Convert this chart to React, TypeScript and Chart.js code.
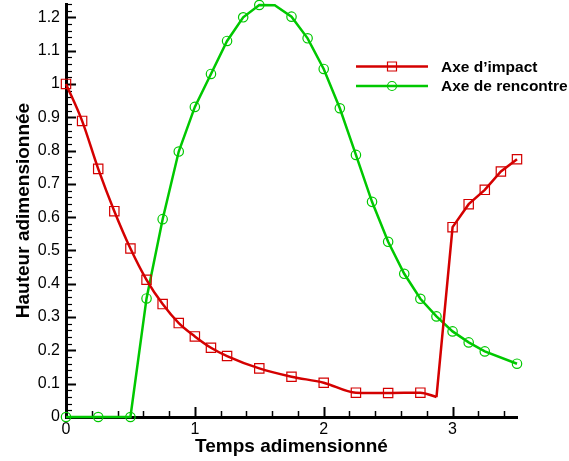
import React, { useEffect, useRef } from "react";
import { Chart, registerables } from "chart.js";

Chart.register(...registerables);

// ---- data ----
const seriesNames = ["Axe d\u2019impact", "Axe de rencontre"];

const impactX = [0, 0.125, 0.25, 0.375, 0.5, 0.625, 0.75, 0.875, 1.0, 1.125, 1.25, 1.5, 1.75, 2.0, 2.25, 2.5, 2.75, 2.875, 3.0, 3.125, 3.25, 3.375, 3.5];
const impactY = [1.0, 0.889, 0.745, 0.618, 0.506, 0.412, 0.339, 0.282, 0.242, 0.208, 0.183, 0.146, 0.121, 0.103, 0.073, 0.072, 0.073, 0.06, 0.57, 0.639, 0.682, 0.737, 0.774];
const impactMarked = [1, 1, 1, 1, 1, 1, 1, 1, 1, 1, 1, 1, 1, 1, 1, 1, 1, 0, 1, 1, 1, 1, 1];
const impactBreakIndex = 17; // smooth part ends, straight part starts

const rencontreX = [0, 0.25, 0.5, 0.625, 0.75, 0.875, 1.0, 1.125, 1.25, 1.375, 1.5, 1.62, 1.75, 1.875, 2.0, 2.125, 2.25, 2.375, 2.5, 2.625, 2.75, 2.875, 3.0, 3.125, 3.25, 3.5];
const rencontreY = [0, 0, 0, 0.356, 0.594, 0.797, 0.931, 1.03, 1.129, 1.2, 1.237, 1.236, 1.202, 1.137, 1.045, 0.927, 0.787, 0.646, 0.526, 0.43, 0.355, 0.302, 0.257, 0.224, 0.197, 0.16];
const rencontreMarked = [1, 1, 1, 1, 1, 1, 1, 1, 1, 1, 1, 0, 1, 1, 1, 1, 1, 1, 1, 1, 1, 1, 1, 1, 1, 1];

const xMin = 0, xMax = 3.5, xMajor = 1, xMinor = 0.2;
const yMin = 0, yMax = 1.24, yMajor = 0.1, yMinor = 0.02;
const xTitle = "Temps adimensionné";
const yTitle = "Hauteur adimensionnée";

const RED = "#d40000";
const GREEN = "#00c800";
const FONT = "'Liberation Sans', Arial, sans-serif";
const PLOT_TOP = 4;

const pts = (xs: number[], ys: number[]) => xs.map((x, i) => ({ x, y: ys[i] }));

const fixTopPlugin = {
  id: "fixTop",
  afterLayout(chart: any) {
    const ys = chart.scales.y;
    const ca = chart.chartArea;
    ca.top = PLOT_TOP;
    ca.height = ca.bottom - PLOT_TOP;
    ys.top = PLOT_TOP;
    ys.height = ys.bottom - PLOT_TOP;
    ys.configure();
  },
};

const axisTicksPlugin = {
  id: "axisTicks",
  beforeDatasetsDraw(chart: any) {
    const { ctx, chartArea } = chart;
    const xs = chart.scales.x;
    const ys = chart.scales.y;
    ctx.save();
    ctx.strokeStyle = "#000";
    const nx = Math.floor((xMax - xMin) / xMinor + 1e-6);
    for (let i = 0; i <= nx; i++) {
      const v = xMin + i * xMinor;
      const major = Math.abs(v / xMajor - Math.round(v / xMajor)) < 1e-6;
      const px = Math.round(xs.getPixelForValue(v)) + 0.5;
      ctx.lineWidth = major ? 2 : 1.5;
      ctx.beginPath();
      ctx.moveTo(px, chartArea.bottom);
      ctx.lineTo(px, chartArea.bottom - (major ? 10 : 6));
      ctx.stroke();
    }
    const ny = Math.floor((yMax - yMin) / yMinor + 1e-6);
    for (let i = 0; i <= ny; i++) {
      const v = yMin + i * yMinor;
      const major = Math.abs(v / yMajor - Math.round(v / yMajor)) < 1e-6;
      const py = Math.round(ys.getPixelForValue(v)) + 0.5;
      ctx.lineWidth = major ? 2 : 1.2;
      ctx.beginPath();
      ctx.moveTo(chartArea.left, py);
      ctx.lineTo(chartArea.left + (major ? 10 : 6), py);
      ctx.stroke();
    }
    ctx.restore();
  },
};

const legendPlugin = {
  id: "customLegend",
  afterDraw(chart: any) {
    const { ctx } = chart;
    const items = [
      { name: seriesNames[0], color: RED, style: "rect" },
      { name: seriesNames[1], color: GREEN, style: "circle" },
    ];
    ctx.save();
    items.forEach((it, i) => {
      const y = 66.5 + i * 19.5;
      ctx.strokeStyle = it.color;
      ctx.lineWidth = 2.5;
      ctx.beginPath();
      ctx.moveTo(356, y);
      ctx.lineTo(428, y);
      ctx.stroke();
      ctx.lineWidth = 1.2;
      ctx.beginPath();
      if (it.style === "rect") {
        ctx.rect(387.5, y - 4.5, 9, 9);
      } else {
        ctx.arc(392, y, 4.5, 0, Math.PI * 2);
      }
      ctx.stroke();
      ctx.fillStyle = "#000";
      ctx.font = `bold 15.5px ${FONT}`;
      ctx.textAlign = "left";
      ctx.textBaseline = "alphabetic";
      ctx.fillText(it.name, 441, y + 5.2);
    });
    ctx.restore();
  },
};

const zeroPad = (s: any) => {
  s.paddingTop = 0;
  s.paddingBottom = 0;
  s.paddingLeft = 0;
  s.paddingRight = 0;
};

export default function App() {
  const canvasRef = useRef<HTMLCanvasElement | null>(null);

  useEffect(() => {
    const canvas = canvasRef.current;
    if (!canvas) return;
    const smooth = pts(impactX.slice(0, impactBreakIndex + 1), impactY.slice(0, impactBreakIndex + 1));
    const straight = pts(impactX.slice(impactBreakIndex), impactY.slice(impactBreakIndex));
    const smoothR = impactMarked.slice(0, impactBreakIndex + 1).map((m) => (m ? 6.6 : 0));
    const straightR = impactMarked.slice(impactBreakIndex).map((m) => (m ? 6.6 : 0));
    const chart = new Chart(canvas, {
      type: "line",
      data: {
        datasets: [
          {
            label: seriesNames[0],
            data: smooth,
            borderColor: RED,
            borderWidth: 2.5,
            cubicInterpolationMode: "monotone",
            pointStyle: "rect",
            pointRadius: smoothR,
            pointBorderColor: RED,
            pointBorderWidth: 1.2,
            pointBackgroundColor: "rgba(0,0,0,0)",
            clip: false,
          } as any,
          {
            label: seriesNames[0],
            data: straight,
            borderColor: RED,
            borderWidth: 2.5,
            tension: 0,
            pointStyle: "rect",
            pointRadius: straightR,
            pointBorderColor: RED,
            pointBorderWidth: 1.2,
            pointBackgroundColor: "rgba(0,0,0,0)",
            clip: false,
          } as any,
          {
            label: seriesNames[1],
            data: pts(rencontreX, rencontreY),
            borderColor: GREEN,
            borderWidth: 2.5,
            tension: 0,
            pointStyle: "circle",
            pointRadius: rencontreMarked.map((m) => (m ? 4.7 : 0)),
            pointBorderColor: GREEN,
            pointBorderWidth: 1.2,
            pointBackgroundColor: "rgba(0,0,0,0)",
            clip: false,
          } as any,
        ],
      },
      options: {
        responsive: false,
        animation: false,
        events: [],
        layout: { padding: { left: 0, top: 4, right: 52, bottom: 0 } },
        plugins: { legend: { display: false }, tooltip: { enabled: false }, title: { display: false } },
        scales: {
          x: {
            type: "linear",
            min: xMin,
            max: xMax,
            grid: { display: false, drawTicks: false },
            border: { display: true, color: "#000", width: 3 },
            ticks: {
              stepSize: xMajor,
              includeBounds: false,
              color: "#000",
              padding: 3,
              font: { family: FONT, size: 16 },
              callback: (v: any) => String(Math.round(Number(v) * 10) / 10),
            },
            title: {
              display: true,
              text: xTitle,
              color: "#000",
              font: { family: FONT, size: 19, weight: "bold" },
              padding: { top: 0, bottom: 3 },
            },
            afterFit: (s: any) => {
              s.height = 44;
              zeroPad(s);
            },
          } as any,
          y: {
            type: "linear",
            min: yMin,
            max: yMax,
            grid: { display: false, drawTicks: false },
            border: { display: true, color: "#000", width: 3 },
            ticks: {
              stepSize: yMajor,
              includeBounds: false,
              color: "#000",
              padding: 6,
              font: { family: FONT, size: 16 },
              callback: (v: any) => String(Math.round(Number(v) * 10) / 10),
            },
            title: {
              display: true,
              text: yTitle,
              color: "#000",
              font: { family: FONT, size: 19, weight: "bold" },
              padding: { top: 12, bottom: 0 },
            },
            afterFit: (s: any) => {
              s.width = 66;
              zeroPad(s);
            },
          } as any,
        },
      },
      plugins: [fixTopPlugin, axisTicksPlugin, legendPlugin],
    });
    return () => chart.destroy();
  }, []);

  return (
    <div style={{ position: "fixed", left: 0, top: 0, width: 569, height: 461, background: "#fff" }}>
      <canvas ref={canvasRef} width={569} height={461} style={{ width: 569, height: 461, display: "block" }} />
    </div>
  );
}
